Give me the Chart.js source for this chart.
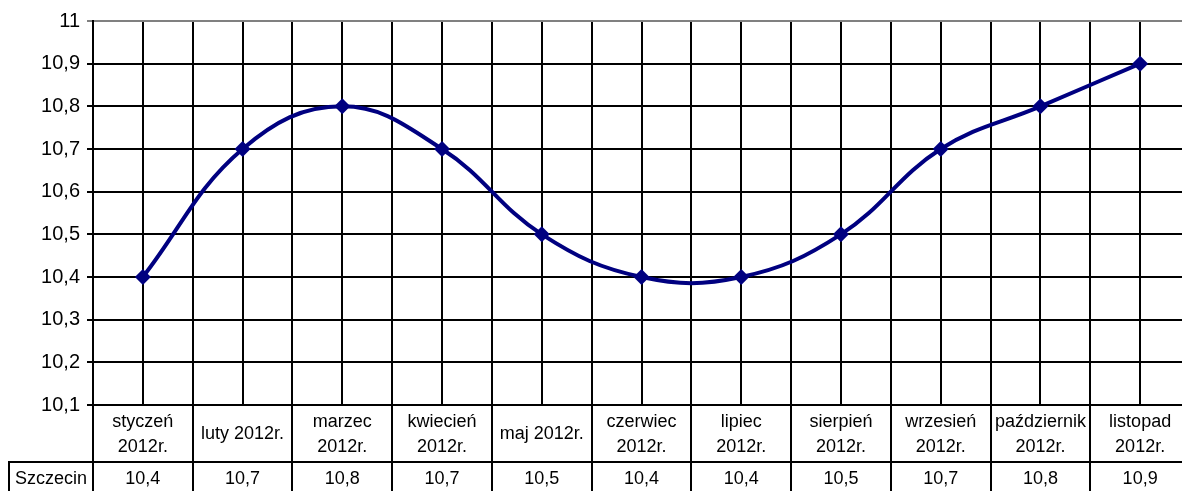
<!DOCTYPE html>
<html>
<head>
<meta charset="utf-8">
<script src="https://cdn.jsdelivr.net/npm/chart.js@4/dist/chart.umd.min.js"></script>
<style>
  html, body { margin: 0; padding: 0; overflow: hidden; background: #fff; }
  #wrap { width: 1182px; height: 491px; overflow: hidden; }
</style>
</head>
<body>
<div id="wrap"><canvas id="chartpoint" width="1198" height="491"></canvas></div>
<script>
const ctx = document.getElementById('chartpoint');

// dane
const months = [['styczeń', '2012r.'], 'luty 2012r.', ['marzec', '2012r.'], ['kwiecień', '2012r.'], 'maj 2012r.',
    ['czerwiec', '2012r.'], ['lipiec', '2012r.'], ['sierpień', '2012r.'], ['wrzesień', '2012r.'],
    ['październik', '2012r.'], ['listopad', '2012r.']];
const seriesName = 'Szczecin';
const szczecin = [10.4, 10.7, 10.8, 10.7, 10.5, 10.4, 10.4, 10.5, 10.7, 10.8, 10.9];
const yMin = 10.1;
const yMax = 11;
const yStep = 0.1;

const FONT = 'Arial, "Liberation Sans", sans-serif';
const fmt = v => String(Number(v.toFixed(1))).replace('.', ',');

// tabela danych pod wykresem
const dataTable = {
    id: 'dataTable',
    afterDraw(chart) {
        const c = chart.ctx;
        const x = chart.scales.x;
        const area = chart.chartArea;
        const rowTop = area.bottom;
        const rowMid = 462;
        const rowEnd = chart.height;
        c.save();
        c.strokeStyle = '#000';
        c.lineWidth = 2;
        c.beginPath();
        // linie pionowe (granice kategorii)
        for (let i = 0; i <= months.length; i++) {
            const px = Math.round(x.getPixelForValue(i - 0.5));
            c.moveTo(px, rowTop);
            c.lineTo(px, rowEnd);
        }
        // linia miedzy wierszami
        c.moveTo(8, rowMid);
        c.lineTo(chart.width, rowMid);
        c.moveTo(9, rowMid);
        c.lineTo(9, rowEnd);
        c.stroke();

        c.fillStyle = '#000';
        c.font = '18px ' + FONT;
        c.textAlign = 'center';
        c.textBaseline = 'middle';
        months.forEach((m, i) => {
            const px = x.getPixelForValue(i);
            if (Array.isArray(m)) {
                c.fillText(m[0], px, 422);
                c.fillText(m[1], px, 447);
            } else {
                c.fillText(m, px, 434);
            }
            c.fillText(fmt(szczecin[i]), px, 479);
        });
        c.fillText(seriesName, (9 + x.getPixelForValue(-0.5)) / 2, 479);
        c.restore();
    }
};

const chart = new Chart(ctx, {
    type: 'line',
    data: {
        datasets: [{
            label: seriesName,
            data: szczecin.map((v, i) => ({x: i, y: v})),
            borderColor: '#000080',
            backgroundColor: '#000080',
            borderWidth: 4,
            tension: 0.4,
            pointStyle: 'rectRot',
            pointRadius: 8,
            pointBorderWidth: 0,
            pointBackgroundColor: '#000080'
        }]
    },
    options: {
        responsive: false,
        animation: false,
        events: [],
        layout: {
            padding: {top: 21, bottom: 86, right: 3, left: 0}
        },
        plugins: {
            legend: {display: false},
            tooltip: {enabled: false}
        },
        scales: {
            x: {
                type: 'linear',
                min: -0.5,
                max: months.length - 0.5,
                ticks: {display: false, stepSize: 0.5},
                grid: {color: '#000', lineWidth: 2, drawTicks: false},
                border: {color: '#000', width: 2},
                afterFit: s => { s.height = 0; }
            },
            y: {
                min: yMin,
                max: yMax,
                ticks: {
                    stepSize: yStep,
                    color: '#000',
                    padding: 7,
                    font: {family: FONT, size: 20},
                    callback: v => fmt(v)
                },
                grid: {
                    color: c => (c.tick && Math.abs(c.tick.value - yMax) < 1e-6) ? '#808080' : '#000',
                    lineWidth: 2,
                    tickLength: 6
                },
                border: {color: '#000', width: 2},
                afterFit: s => { s.width = 93; }
            }
        }
    },
    plugins: [dataTable]
});
</script>
</body>
</html>
